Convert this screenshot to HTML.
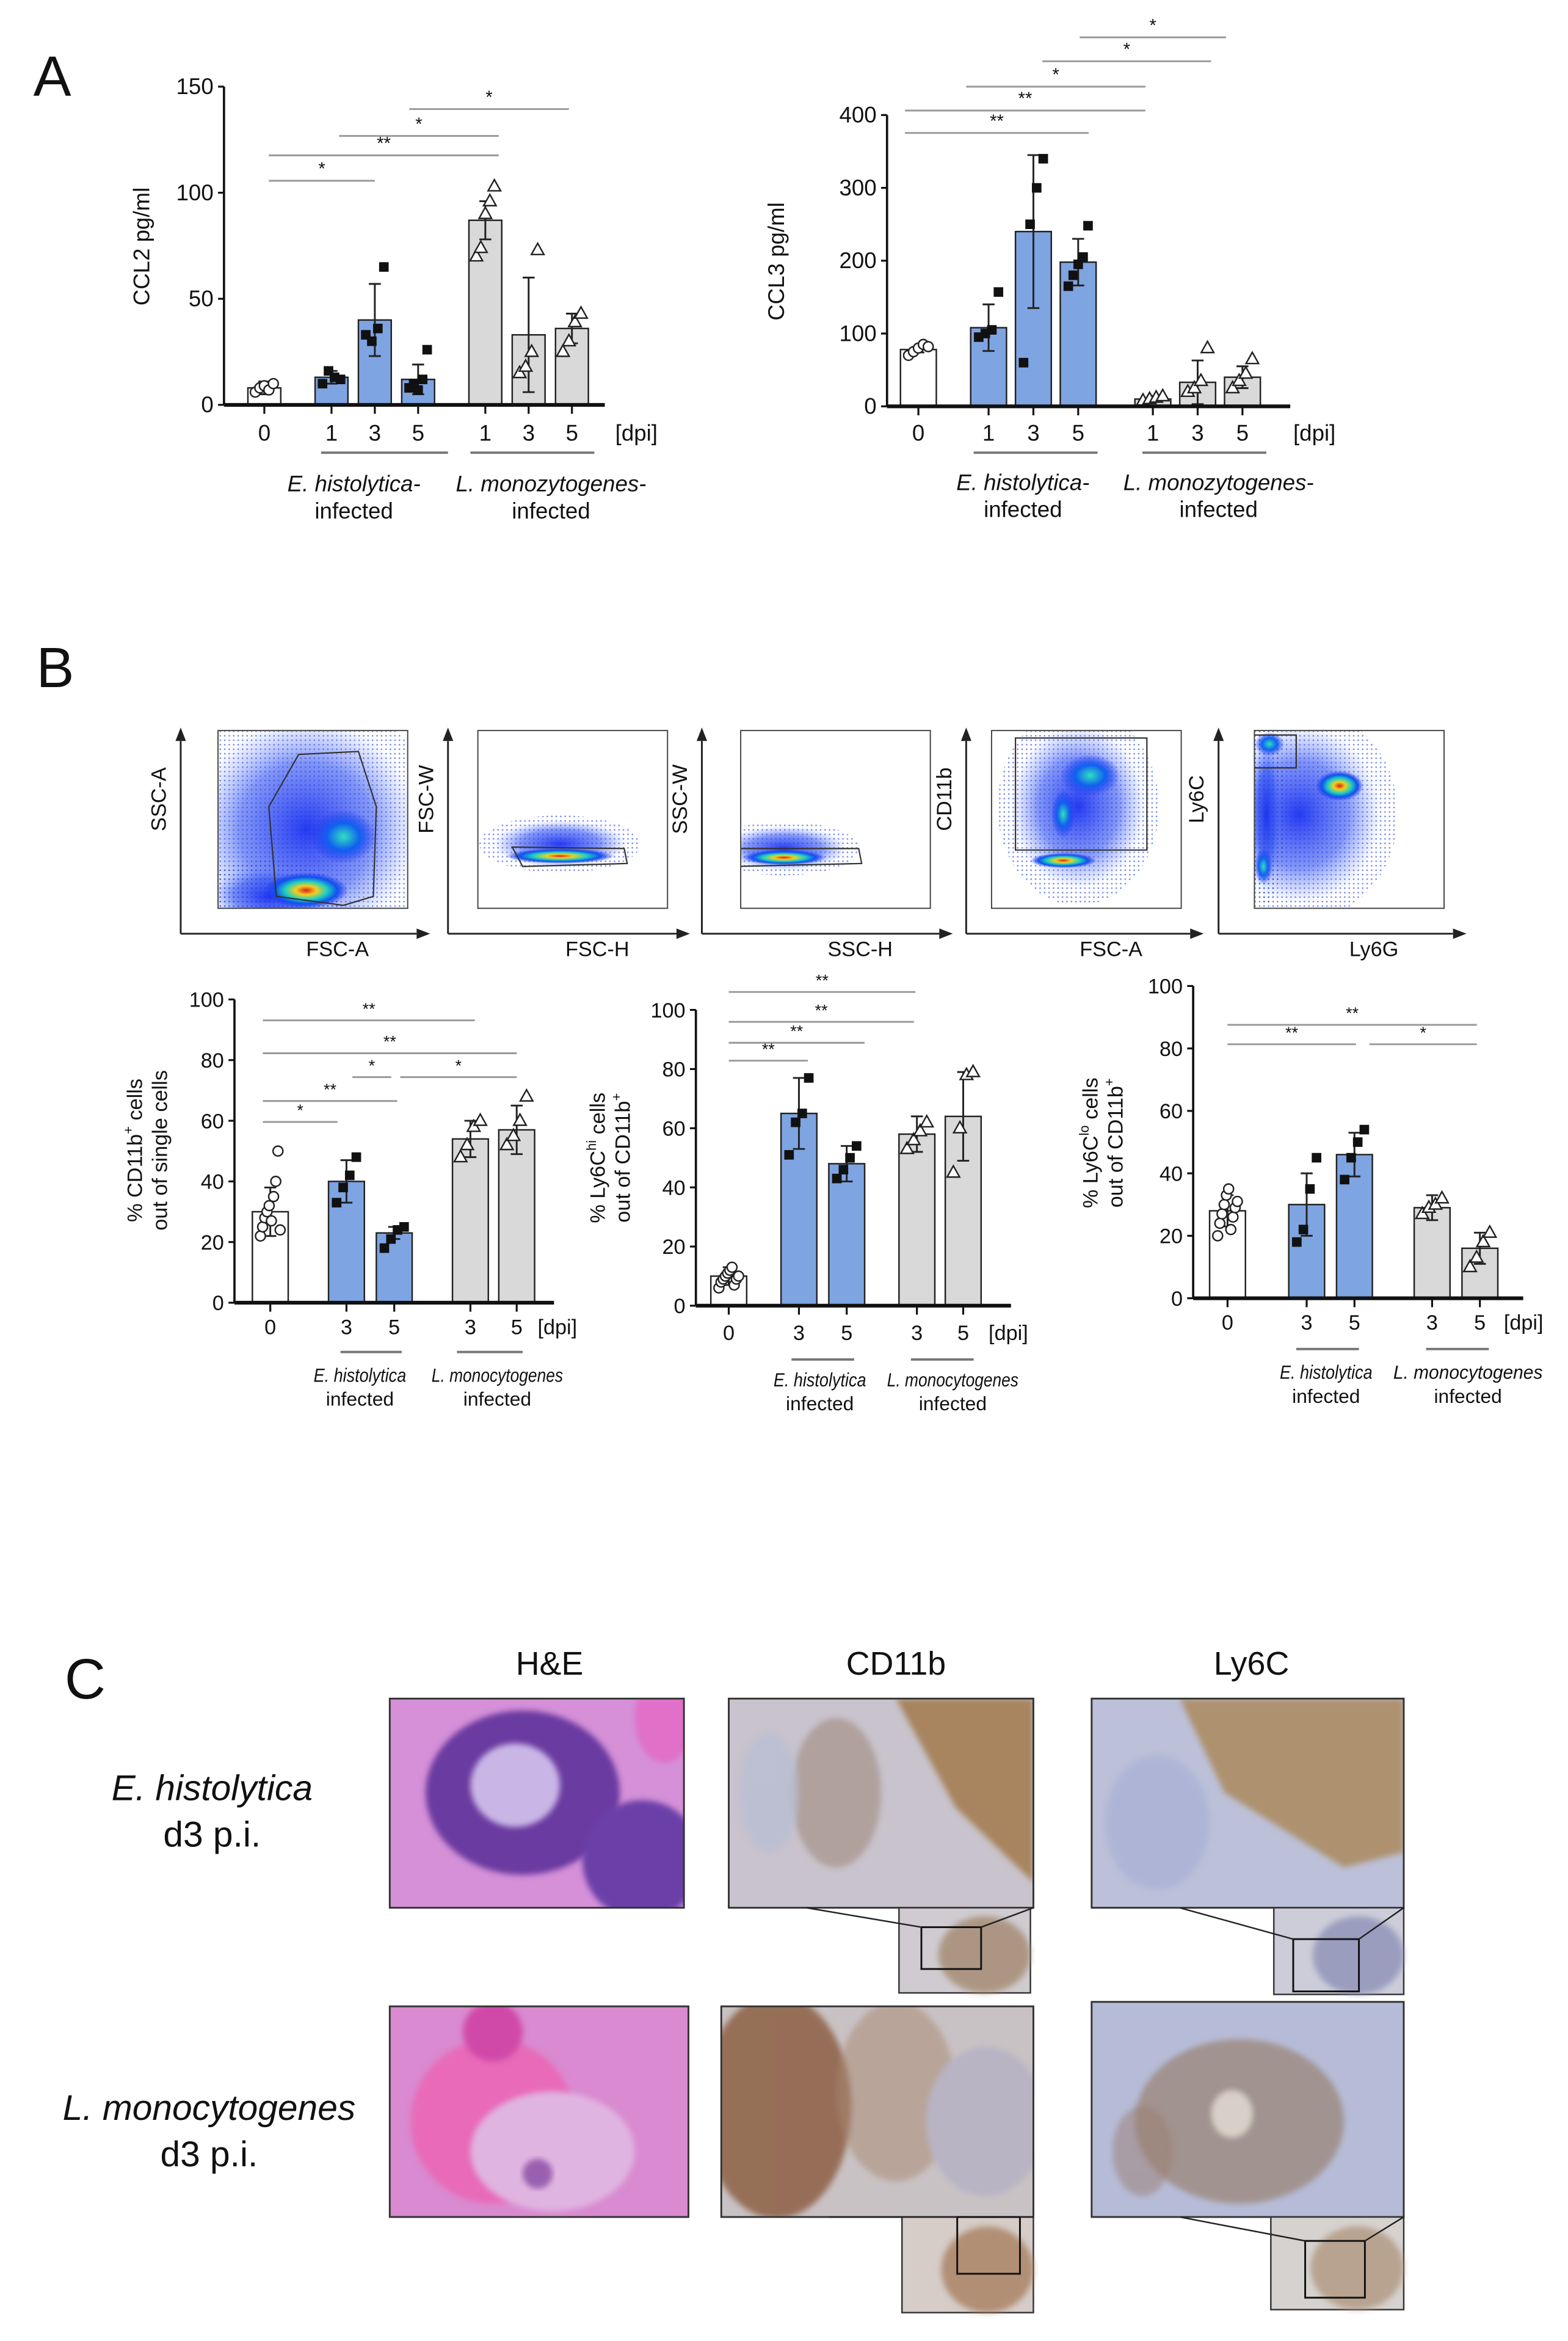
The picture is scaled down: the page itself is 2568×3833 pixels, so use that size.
<!DOCTYPE html>
<html><head><meta charset="utf-8"><style>
html,body{margin:0;padding:0;background:#fff;}
svg{display:block;font-family:"Liberation Sans",Arial,sans-serif;}
</style></head><body>
<svg id="fig" width="2568" height="3833" viewBox="0 0 1050 1567" preserveAspectRatio="none" xmlns="http://www.w3.org/2000/svg">
<defs>
<radialGradient id="heat" cx="50%" cy="50%" r="50%"><stop offset="0" stop-color="#e0201a"/><stop offset="0.25" stop-color="#f0d020"/><stop offset="0.5" stop-color="#20d0c0"/><stop offset="0.75" stop-color="#1050f0"/><stop offset="1" stop-color="#2030f0" stop-opacity="0"/></radialGradient>
<radialGradient id="cool" cx="50%" cy="50%" r="50%"><stop offset="0" stop-color="#30e0c0"/><stop offset="0.5" stop-color="#1060f0"/><stop offset="1" stop-color="#2030f0" stop-opacity="0"/></radialGradient>
<radialGradient id="haze" cx="50%" cy="50%" r="50%"><stop offset="0" stop-color="#1a30f0" stop-opacity="0.95"/><stop offset="0.6" stop-color="#3050f0" stop-opacity="0.6"/><stop offset="1" stop-color="#6080ff" stop-opacity="0"/></radialGradient>
<pattern id="dots" width="3" height="3" patternUnits="userSpaceOnUse"><rect x="0" y="0" width="1" height="1" fill="#2040e0"/></pattern>
<filter id="blur2"><feGaussianBlur stdDeviation="2"/></filter>
</defs>
<g id="root"></g>
</svg>
<script>
// ---------- DATA ----------
const ccl2Cats=['0','1','3','5','1','3','5'];
const ccl2Means=[8,13,40,12,87,33,36];
const ccl2Err=[3,3,17,7,9,27,7];
const ccl2Points=[[6,8,9,7,10],[10,16,13,12],[33,30,36,65],[8,10,7,12,26],[70,74,90,96,103],[15,18,25,73],[25,30,39,43]];
const ccl2Ticks=[0,50,100,150];

const ccl3Cats=['0','1','3','5','1','3','5'];
const ccl3Means=[78,108,240,198,10,33,40];
const ccl3Err=[4,32,105,32,4,30,15];
const ccl3Points=[[70,75,80,85,82],[95,100,105,157],[60,250,300,340],[165,180,195,205,248],[8,10,12,14],[20,25,35,80],[25,35,45,65]];
const ccl3Ticks=[0,100,200,300,400];

const cd11bCats=['0','3','5','3','5'];
const cd11bMeans=[30,40,23,54,57];
const cd11bErr=[8,7,2,6,8];
const cd11bPoints=[[22,25,28,30,32,27,35,40,50,24],[33,38,42,48],[18,21,24,25],[48,52,58,60],[52,55,60,68]];
const pctTicks=[0,20,40,60,80,100];

const ly6hiCats=['0','3','5','3','5'];
const ly6hiMeans=[10,65,48,58,64];
const ly6hiErr=[3,12,6,6,15];
const ly6hiPoints=[[6,8,9,10,11,12,13,7,9,10],[51,62,65,77],[43,46,50,54],[53,56,59,62],[45,60,78,79]];

const ly6loCats=['0','3','5','3','5'];
const ly6loMeans=[28,30,46,29,16];
const ly6loErr=[5,10,7,4,5];
const ly6loPoints=[[20,24,27,30,33,35,22,26,29,31],[18,22,35,45],[38,45,50,54],[27,29,30,32],[10,13,18,21]];

// ---------- HELPERS ----------
const NS='http://www.w3.org/2000/svg';
const root=document.getElementById('root');
function el(tag,attrs,parent,txt){const e=document.createElementNS(NS,tag);for(const k in attrs)e.setAttribute(k,attrs[k]);if(txt!==undefined)e.textContent=txt;(parent||root).appendChild(e);return e;}
function txt(x,y,s,size,parent,extra){const a=Object.assign({x:x,y:y,'font-size':size,'text-anchor':'middle',fill:'#111'},extra||{});return el('text',a,parent,s);}

const BLUE='#7ea4e2',GREY='#d9d9d9';
function marker(g,kind,x,y){
  let m;
  if(kind==='c'){m=el('circle',{cx:x,cy:y,r:3.3,fill:'#fff',stroke:'#222','stroke-width':1},g);}
  else if(kind==='s'){m=el('rect',{x:x-3.2,y:y-3.2,width:6.4,height:6.4,fill:'#111'},g);}
  else {m=el('path',{d:`M${x},${y-4.5}L${x+4.2},${y+3}L${x-4.2},${y+3}Z`,fill:'#fff',stroke:'#222','stroke-width':1},g);}
  
  
}
function chart(name,cfg,cats,means,errs,pts,ticks){
  const g=el('g',{},root);
  
  
  const max=ticks[ticks.length-1];
  const Y=v=>cfg.y0-(v/max)*(cfg.y0-cfg.yTop);
  const ya=el('line',{x1:cfg.ax,y1:cfg.y0,x2:cfg.ax,y2:cfg.yTop,stroke:'#111','stroke-width':1.5},g);
  
  ticks.forEach(t=>{el('line',{x1:cfg.ax-4,x2:cfg.ax,y1:Y(t),y2:Y(t),stroke:'#111','stroke-width':1.3},g);
    const tl=txt(cfg.ax-7,Y(t)+5,String(t),cfg.fs,g,{'text-anchor':'end'});
    });
  cats.forEach((c,i)=>{
    const x=cfg.xs[i];const fill=cfg.fills[i];
    const b=el('rect',{x:x-cfg.bw/2,y:Y(means[i]),width:cfg.bw,height:cfg.y0-Y(means[i]),fill:fill,stroke:'#222','stroke-width':1},g);
    
    const top=Y(means[i]+errs[i]);
    el('line',{x1:x,x2:x,y1:Y(means[i]-errs[i]),y2:top,stroke:'#222','stroke-width':1.2},g);
    el('line',{x1:x-4,x2:x+4,y1:top,y2:top,stroke:'#222','stroke-width':1.2},g);
    el('line',{x1:x-4,x2:x+4,y1:Y(means[i]-errs[i]),y2:Y(means[i]-errs[i]),stroke:'#222','stroke-width':1.2},g);
    const n=pts[i].length;
    pts[i].forEach((v,j)=>{const off=n>1?(j/(n-1)-0.5)*cfg.bw*0.55:0;marker(g,cfg.marks[i],x+off,Y(v));});
    el('line',{x1:x,x2:x,y1:cfg.y0,y2:cfg.y0+6,stroke:'#111','stroke-width':1.3},g);
    const tl=txt(x,cfg.tickY,c,cfg.fs,g);
    
  });
  const xa=el('line',{x1:cfg.ax,y1:cfg.y0,x2:cfg.xEnd,y2:cfg.y0,stroke:'#111','stroke-width':2.5},g);
  
  const d=txt(cfg.dpiX,cfg.tickY,'[dpi]',cfg.fs,g,{'text-anchor':'start'});
  
  const yt=el('text',{transform:`translate(${cfg.ytX},${cfg.ytY}) rotate(-90)`,'font-size':cfg.fs,'text-anchor':'middle',fill:'#111'},g);
  
  cfg.ytLines.forEach((l,k)=>{const ts=el('tspan',{x:0,dy:k===0?0:cfg.fs*1.2},yt);ts.innerHTML=l;});
  cfg.groups.forEach(gr=>{
    const ln=el('line',{x1:gr[0],x2:gr[1],y1:cfg.gY,y2:cfg.gY,stroke:'#777','stroke-width':1.6},g);
    
    const cx=gr[2];
    const ex={'font-style':'italic'};
    if(gr[4]){ex.textLength=gr[4];ex.lengthAdjust='spacingAndGlyphs';}
    const t1=txt(cx,cfg.gT1,gr[3],cfg.gfs,g,ex);
    
    const t2=txt(cx,cfg.gT2,'infected',cfg.gfs,g);
    
  });
  cfg.sig.forEach(s=>{
    const ln=el('line',{x1:s[0],x2:s[1],y1:s[2],y2:s[2],stroke:'#999','stroke-width':1.2},g);
    
    const st=txt((s[0]+s[1])/2,s[2]-4,s[3],cfg.fs-3,g);
    
  });
}

// ---------- PANEL A ----------
let L=txt(35,64,'A',38,root);
chart('ccl2-chart',{ax:150,y0:271,yTop:58,xEnd:405,xs:[177,222,251,280,325,354,383],bw:22,
  fills:['#fff',BLUE,BLUE,BLUE,GREY,GREY,GREY],marks:['c','s','s','s','t','t','t'],
  fs:15,tickY:295,dpiX:412,ytX:100,ytY:165,ytLines:['CCL2 pg/ml'],
  gY:303,gT1:329,gT2:347,gfs:15,
  groups:[[215,300,237,'E. histolytica-'],[315,398,369,'L. monozytogenes-']],
  sig:[[180,251,121,'*'],[180,334,104,'**'],[227,334,91,'*'],[274,381,73,'*']]},
  ccl2Cats,ccl2Means,ccl2Err,ccl2Points,ccl2Ticks);
chart('ccl3-chart',{ax:594,y0:272,yTop:77,xEnd:864,xs:[615,662,692,722,772,802,832],bw:24,
  fills:['#fff',BLUE,BLUE,BLUE,GREY,GREY,GREY],marks:['c','s','s','s','t','t','t'],
  fs:15,tickY:295,dpiX:866,ytX:525,ytY:175,ytLines:['CCL3 pg/ml'],
  gY:303,gT1:328,gT2:346,gfs:15,
  groups:[[652,735,685,'E. histolytica-'],[765,848,816,'L. monozytogenes-']],
  sig:[[606,729,89,'**'],[606,767,74,'**'],[647,767,58,'*'],[698,811,41,'*'],[723,821,25,'*']]},
  ccl3Cats,ccl3Means,ccl3Err,ccl3Points,ccl3Ticks);

// ---------- PANEL B ----------
L=txt(37,460,'B',38,root);
const flows=[
 {bx:146,ax:121,yl:'SSC-A',xl:'FSC-A',blobs:[[205,596,28,12,'heat'],[230,560,22,18,'cool']],haze:[[205,555,75,75],[180,600,40,20]],gate:'M185,600 L180,540 L200,505 L240,503 L252,540 L250,600 L230,606 Z'},
 {bx:320,ax:300,yl:'FSC-W',xl:'FSC-H',blobs:[[375,573,36,5,'heat']],haze:[[375,565,45,16]],gate:'M343,567 L418,568 L420,578 L350,580 Z'},
 {bx:496,ax:470,yl:'SSC-W',xl:'SSC-H',blobs:[[525,574,28,5,'heat']],haze:[[525,568,42,15]],gate:'M490,568 L575,568 L577,578 L492,580 Z'},
 {bx:664,ax:647,yl:'CD11b',xl:'FSC-A',blobs:[[730,519,20,14,'cool'],[712,545,8,16,'cool'],[712,576,22,5,'heat']],haze:[[722,540,45,55]],gate:'M680,494 L768,494 L768,569 L680,569 Z'},
 {bx:840,ax:816,yl:'Ly6C',xl:'Ly6G',blobs:[[897,526,16,10,'heat'],[850,498,10,8,'cool'],[846,580,6,12,'cool']],haze:[[870,545,55,60],[848,545,10,50]],gate:'M833,492 L868,492 L868,514 L833,514 Z'}];
flows.forEach((f,i)=>{
  const g=el('g',{},root);
  
  
  const cp=el('clipPath',{id:'fcp'+i},g);el('rect',{x:f.bx,y:489,width:127,height:119},cp);
  el('rect',{x:f.bx,y:489,width:127,height:119,fill:'#fff'},g);
  const inner=el('g',{'clip-path':`url(#fcp${i})`},g);
  f.haze.forEach(h=>{el('ellipse',{cx:h[0],cy:h[1],rx:h[2]*1.2,ry:h[3]*1.2,fill:'url(#dots)',opacity:0.6},inner);el('ellipse',{cx:h[0],cy:h[1],rx:h[2],ry:h[3],fill:'url(#haze)'},inner);});
  f.blobs.forEach(b=>el('ellipse',{cx:b[0],cy:b[1],rx:b[2],ry:b[3],fill:`url(#${b[4]})`},inner));
  el('path',{d:f.gate,fill:'none',stroke:'#333','stroke-width':0.9},inner);
  el('rect',{x:f.bx,y:489,width:127,height:119,fill:'none',stroke:'#444','stroke-width':0.8},g);
  el('line',{x1:f.ax,y1:625,x2:f.ax,y2:496,stroke:'#222','stroke-width':1.2},g);
  el('path',{d:`M${f.ax-3.5},${496}L${f.ax},${487}L${f.ax+3.5},${496}Z`,fill:'#222'},g);
  el('line',{x1:f.ax,y1:625,x2:f.bx+133,y2:625,stroke:'#222','stroke-width':1.2},g);
  el('path',{d:`M${f.bx+133},621.5L${f.bx+142},625L${f.bx+133},628.5Z`,fill:'#222'},g);
  const yl=el('text',{transform:`translate(${f.ax-10},535) rotate(-90)`,'font-size':14,'text-anchor':'middle',fill:'#111'},g,f.yl);
  
  const xl=txt(f.bx+80,640,f.xl,14,g);
  
});

chart('cd11b-chart',{ax:157,y0:872,yTop:669,xEnd:371,xs:[181,232,264,315,346],bw:24,
  fills:['#fff',BLUE,BLUE,GREY,GREY],marks:['c','s','s','t','t'],
  fs:14,tickY:893,dpiX:360,ytX:95,ytY:770,ytLines:['% CD11b<tspan font-size="9" dy="-6">+</tspan><tspan dy="6"> cells</tspan>','out of single cells'],
  gY:905,gT1:925,gT2:941,gfs:13,
  groups:[[228,269,241,'E. histolytica',62],[306,350,333,'L. monocytogenes',88]],
  sig:[[176,318,683,'**'],[176,346,705,'**'],[236,262,721,'*'],[268,346,721,'*'],[176,266,737,'**'],[176,226,751,'*']]},
  cd11bCats,cd11bMeans,cd11bErr,cd11bPoints,pctTicks);
chart('ly6chi-chart',{ax:466,y0:874,yTop:676,xEnd:677,xs:[488,535,567,614,645],bw:24,
  fills:['#fff',BLUE,BLUE,GREY,GREY],marks:['c','s','s','t','t'],
  fs:14,tickY:897,dpiX:662,ytX:405,ytY:775,ytLines:['% Ly6C<tspan font-size="9" dy="-6">hi</tspan><tspan dy="6"> cells</tspan>','out of CD11b<tspan font-size="9" dy="-6">+</tspan>'],
  gY:910,gT1:928,gT2:944,gfs:13,
  groups:[[530,572,549,'E. histolytica',62],[610,652,638,'L. monocytogenes',88]],
  sig:[[488,613,664,'**'],[488,612,684,'**'],[488,579,698,'**'],[488,541,710,'**']]},
  ly6hiCats,ly6hiMeans,ly6hiErr,ly6hiPoints,pctTicks);
chart('ly6clo-chart',{ax:799,y0:869,yTop:660,xEnd:1020,xs:[822,875,907,959,991],bw:24,
  fills:['#fff',BLUE,BLUE,GREY,GREY],marks:['c','s','s','t','t'],
  fs:14,tickY:890,dpiX:1007,ytX:735,ytY:765,ytLines:['% Ly6C<tspan font-size="9" dy="-6">lo</tspan><tspan dy="6"> cells</tspan>','out of CD11b<tspan font-size="9" dy="-6">+</tspan>'],
  gY:903,gT1:923,gT2:939,gfs:13,
  groups:[[868,910,888,'E. histolytica',62],[955,997,983,'L. monocytogenes',100]],
  sig:[[822,989,686,'**'],[822,908,699,'**'],[917,989,699,'*']]},
  ly6loCats,ly6loMeans,ly6loErr,ly6loPoints,pctTicks);

// ---------- PANEL C ----------
L=txt(57,1137,'C',38,root);
[['H&E',368],['CD11b',600],['Ly6C',838]].forEach(h=>{const t=txt(h[1],1121,h[0],22,root);});
[['E. histolytica',1205,142],['L. monocytogenes',1419,140]].forEach(r=>{
  const a=txt(r[2],r[1],r[0],24,root,{'font-style':'italic'});
  const b=txt(r[2],r[1]+31,'d3 p.i.',24,root);
});
function tissue(name,x,y,w,h,base,blobs){
  const g=el('g',{},root);
  
  
  const cp='cp'+name;
  const c=el('clipPath',{id:cp},g);el('rect',{x:x,y:y,width:w,height:h},c);
  const inner=el('g',{'clip-path':`url(#${cp})`},g);
  el('rect',{x:x,y:y,width:w,height:h,fill:base},inner);
  blobs.forEach(b=>{if(b[0]==='p')el('path',{d:b[1],fill:b[2],opacity:b[3]||1,filter:'url(#blur2)'},inner);else el('ellipse',{cx:b[1],cy:b[2],rx:b[3],ry:b[4],fill:b[5],opacity:b[6]||1,filter:'url(#blur2)'},inner);});
  el('rect',{x:x,y:y,width:w,height:h,fill:'none',stroke:'#333','stroke-width':1.2},g);
}
tissue('he-ehisto',261,1137,197,140,'#d590d8',[['e',350,1200,65,55,'#6a3aa0'],['e',345,1195,30,28,'#c9b6e6'],['e',430,1245,40,40,'#6b3fa8'],['e',445,1150,20,30,'#e070c8']]);
tissue('cd11b-ehisto',488,1137,204,140,'#c8c3cc',[['p','M600,1137L692,1137L692,1260L640,1210Z','#a8845e'],['e',560,1200,30,50,'#9a8070',0.5],['e',515,1200,20,40,'#b8bed4',0.7]]);
tissue('ly6c-ehisto',731,1137,209,140,'#bcc0d8',[['p','M790,1137L940,1137L940,1240L900,1250L820,1200Z','#ae9270'],['e',775,1220,35,45,'#a8b0d6',0.7]]);
tissue('he-lmono',261,1343,200,141,'#d98ad0',[['e',330,1420,55,55,'#e86ab8'],['e',370,1440,55,40,'#e0b4e0'],['e',360,1455,10,10,'#9a60b0'],['e',330,1360,20,20,'#d04aa8']]);
tissue('cd11b-lmono',483,1343,209,141,'#c9c2c4',[['e',520,1410,50,75,'#8a5a3e',0.8],['e',600,1400,40,60,'#a88870',0.5],['e',660,1420,40,50,'#b8b4c4']]);
tissue('ly6c-lmono',731,1340,209,144,'#b6bcd8',[['e',830,1420,70,55,'#94785e',0.6],['e',825,1415,14,16,'#d8d0c8'],['e',765,1440,20,30,'#9a7e70',0.5]]);
function inset(name,x,y,w,h,bx,by,bw,bh,lx1,ly1,lx2,ly2,col,col2){
  const g=el('g',{},root);
  
  
  el('rect',{x:x,y:y,width:w,height:h,fill:col,stroke:'#333','stroke-width':1},g);
  el('ellipse',{cx:x+w*0.65,cy:y+h*0.55,rx:w*0.35,ry:h*0.45,fill:col2,opacity:0.8,filter:'url(#blur2)'},g);
  el('rect',{x:bx,y:by,width:bw,height:bh,fill:'none',stroke:'#111','stroke-width':1.2},g);
  el('line',{x1:lx1,y1:ly1,x2:bx,y2:by,stroke:'#222','stroke-width':1},g);
  el('line',{x1:lx2,y1:ly2,x2:bx+bw,y2:by,stroke:'#222','stroke-width':1},g);
}
inset('inset-cd11b-ehisto',602,1277,88,57,617,1290,40,28,540,1277,692,1277,'#cfcbd0','#a48a70');
inset('inset-ly6c-ehisto',853,1277,87,58,866,1298,44,35,790,1277,940,1277,'#cccdd8','#8e92b8');
inset('inset-cd11b-lmono',604,1484,88,64,641,1484,42,38,555,1484,692,1484,'#d6ccc8','#a88060');
inset('inset-ly6c-lmono',851,1484,89,62,874,1500,40,38,790,1484,940,1484,'#d6d2d0','#b09880');
</script>
</body></html>
